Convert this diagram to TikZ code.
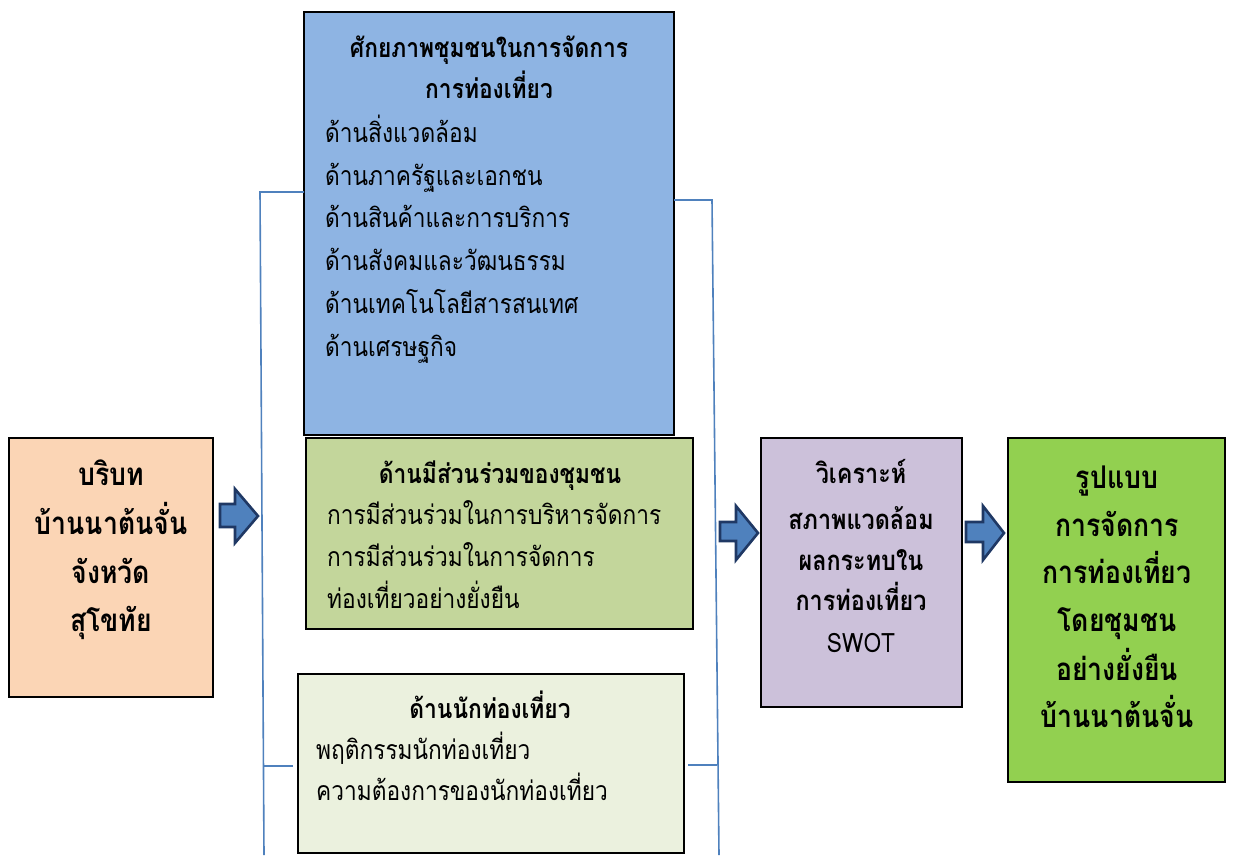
\documentclass[tikz,border=0pt]{standalone}
\usepackage{fontspec}
\newfontfamily\thai[Script=Thai,FakeStretch=0.85]{Loma}
\begin{document}
\begin{tikzpicture}[x=1pt,y=-1pt,
  box/.style={draw=black,line width=1.5pt},
  conn/.style={draw={rgb,255:red,79;green,129;blue,189},line width=1.6pt},
  barrow/.style={draw={rgb,255:red,31;green,56;blue,100},fill={rgb,255:red,79;green,129;blue,189},line width=2.6pt,line join=miter},
  tl/.style={anchor=base west,inner sep=0pt,font=\thai\fontsize{26.7}{26.7}\selectfont},
  tt/.style={anchor=base,inner sep=0pt,font=\thai\bfseries\fontsize{26.8}{26.8}\selectfont},
  tp/.style={anchor=base,inner sep=0pt,font=\thai\bfseries\fontsize{27.5}{27.5}\selectfont},
  tb/.style={anchor=base,inner sep=0pt,font=\thai\bfseries\fontsize{31.3}{31.3}\selectfont}]
\useasboundingbox (0,0) rectangle (1234,855);
\definecolor{corange}{RGB}{251,213,181}
\definecolor{cblue}{RGB}{142,180,227}
\definecolor{cgreen}{RGB}{195,214,155}
\definecolor{clgreen}{RGB}{235,241,222}
\definecolor{cpurple}{RGB}{204,193,218}
\definecolor{cbgreen}{RGB}{146,208,80}
% connector lines (behind boxes)
\coordinate (l1) at (260,192);
\coordinate (l2) at (264,855);
\coordinate (l3) at (263,766);
\coordinate (r1) at (712,200);
\coordinate (r2) at (719,855);
\coordinate (r3) at (717,765);
% boxes
\path[box,fill=corange] (9,438) rectangle (213,697);
\path[box,fill=cblue] (304,12) rectangle (674,435);
\path[box,fill=cgreen] (306,438) rectangle (693,629);
\path[box,fill=clgreen] (298,674) rectangle (684,853);
\path[box,fill=cpurple] (761,438) rectangle (962,707);
\path[box,fill=cbgreen] (1008,438) rectangle (1225,782);
\coordinate (bl) at (304,192);
\coordinate (br) at (674,200);
\coordinate (gl) at (293,766);
\coordinate (gr) at (688,765);
\draw[conn] (bl) -- (l1) -- (l2);
\draw[conn] (gl) -- (l3);
\draw[conn] (br) -- (r1) -- (r2);
\draw[conn] (gr) -- (r3);
% block arrows
\draw[barrow] (220,504) -- (235,504) -- (235,489) -- (258,516) -- (235,543) -- (235,527) -- (220,527) -- cycle;
\draw[barrow] (720,522) -- (736,522) -- (736,506) -- (758,533) -- (736,560) -- (736,541) -- (720,541) -- cycle;
\draw[barrow] (966,522) -- (983,522) -- (983,506) -- (1004,533) -- (983,560) -- (983,542) -- (966,542) -- cycle;
% orange text
\node[tb] (o1) at (111,485) {บริบท};
\node[tb] (o2) at (111,534) {บ้านนาต้นจั่น};
\node[tb] (o3) at (111,583) {จังหวัด};
\node[tb] (o4) at (111,631) {สุโขทัย};
% blue
\node[tt] (b0) at (489,57) {ศักยภาพชุมชนในการจัดการ};
\node[tt] (b00) at (489,98) {การท่องเที่ยว};
\node[tl] (b1) at (325,142) {ด้านสิ่งแวดล้อม};
\node[tl] (b2) at (325,185) {ด้านภาครัฐและเอกชน};
\node[tl] (b3) at (325,227) {ด้านสินค้าและการบริการ};
\node[tl] (b4) at (325,270) {ด้านสังคมและวัฒนธรรม};
\node[tl] (b5) at (325,313) {ด้านเทคโนโลยีสารสนเทศ};
\node[tl] (b6) at (325,356) {ด้านเศรษฐกิจ};
% green
\node[tt] (g0) at (500,483) {ด้านมีส่วนร่วมของชุมชน};
\node[tl] (g1) at (327,524) {การมีส่วนร่วมในการบริหารจัดการ};
\node[tl] (g2) at (327,566) {การมีส่วนร่วมในการจัดการ};
\node[tl] (g3) at (327,608) {ท่องเที่ยวอย่างยั่งยืน};
% light green
\node[tt] (t0) at (490,718) {ด้านนักท่องเที่ยว};
\node[tl] (t1) at (316,759) {พฤติกรรมนักท่องเที่ยว};
\node[tl] (t2) at (316,800) {ความต้องการของนักท่องเที่ยว};
% purple
\node[tp] (p1) at (861,483) {วิเคราะห์};
\node[tp] (p2) at (861,529) {สภาพแวดล้อม};
\node[tp] (p3) at (861,570) {ผลกระทบใน};
\node[tp] (p4) at (861,610) {การท่องเที่ยว};
\node[tl,anchor=base] (p5) at (861,652) {SWOT};
% bright green
\node[tb] (v1) at (1117,488) {รูปแบบ};
\node[tb] (v2) at (1117,536) {การจัดการ};
\node[tb] (v3) at (1117,583) {การท่องเที่ยว};
\node[tb] (v4) at (1117,631) {โดยชุมชน};
\node[tb] (v5) at (1117,680) {อย่างยั่งยืน};
\node[tb] (v6) at (1117,727) {บ้านนาต้นจั่น};
\end{tikzpicture}
\end{document}
